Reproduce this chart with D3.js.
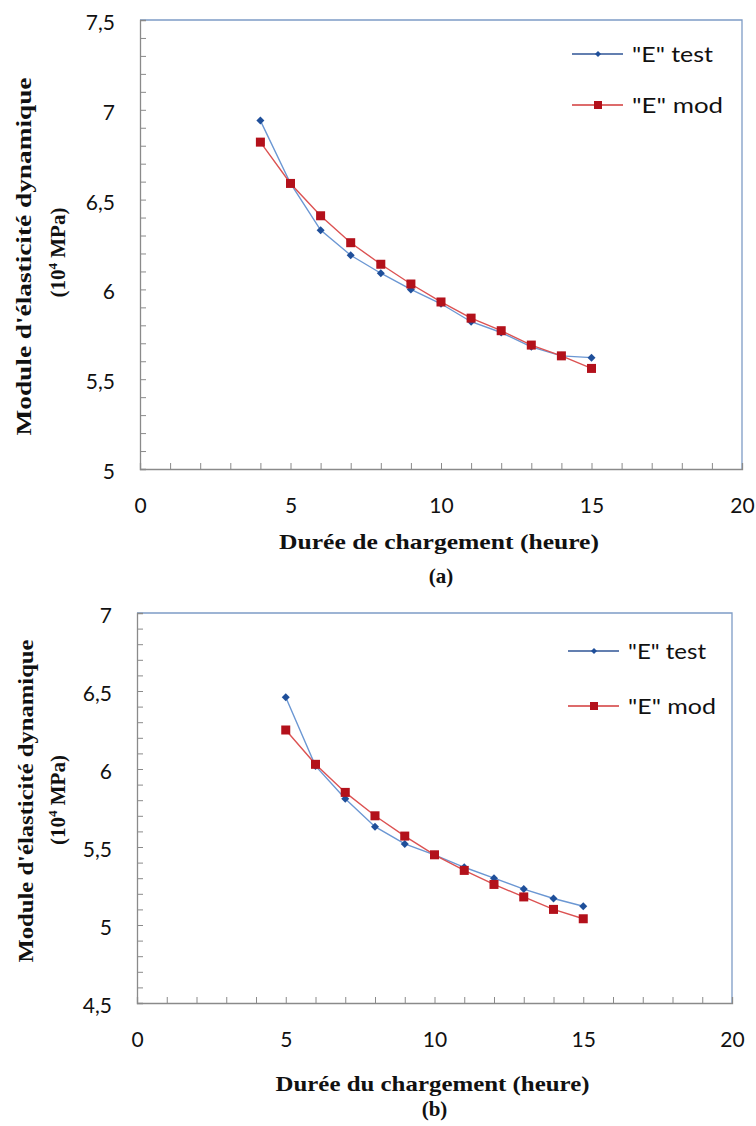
<!DOCTYPE html>
<html>
<head>
<meta charset="utf-8">
<script src="https://cdn.jsdelivr.net/npm/d3@7"></script>
<style>
  html, body { margin: 0; background: #fff; }
  svg { display: block; }
</style>
</head>
<body>
<svg id="fig" width="756" height="1126"></svg>
<script>
// Panel (a): dynamic modulus vs loading duration
const hoursA = [4, 5, 6, 7, 8, 9, 10, 11, 12, 13, 14, 15];
const testA  = [6.94, 6.59, 6.33, 6.19, 6.09, 6.00, 5.92, 5.82, 5.76, 5.68, 5.63, 5.62];
const modA   = [6.82, 6.59, 6.41, 6.26, 6.14, 6.03, 5.93, 5.84, 5.77, 5.69, 5.63, 5.56];

// Panel (b)
const hoursB = [5, 6, 7, 8, 9, 10, 11, 12, 13, 14, 15];
const testB  = [6.46, 6.02, 5.81, 5.63, 5.52, 5.45, 5.37, 5.30, 5.23, 5.17, 5.12];
const modB   = [6.25, 6.03, 5.85, 5.70, 5.57, 5.45, 5.35, 5.26, 5.18, 5.10, 5.04];

// Tick labels
const xTickLabels = [0, 5, 10, 15, 20];
const yTicksA = [5, 5.5, 6, 6.5, 7, 7.5];
const yTicksB = [4.5, 5, 5.5, 6, 6.5, 7];

const seriesNames = ['"E" test', '"E" mod'];
const xTitles = ["Durée de chargement (heure)", "Durée du chargement (heure)"];
const captions = ["(a)", "(b)"];
const yTitle = "Module d'élasticité dynamique";

const fr = d3.formatLocale({ decimal: ",", thousands: " ", grouping: [3], currency: ["", "€"] });
const fmt = fr.format(".1~f");

const svg = d3.select("#fig");
const SANS = "Lato, 'Open Sans', sans-serif";
const SERIF = "'Liberation Serif', 'DejaVu Serif', serif";

const testStyle = { line: "#6b97d3", marker: "#1f4f9a", shape: "diamond" };
const modStyle  = { line: "#dc5252", marker: "#b3111b", shape: "square" };

function drawMarker(sel, shape, size) {
  if (shape === "square") {
    sel.append("rect").attr("x", -size / 2).attr("y", -size / 2)
      .attr("width", size).attr("height", size);
  } else {
    const r = size / 2;
    sel.append("path").attr("d", `M0,${-r}L${r},0L0,${r}L${-r},0Z`);
  }
}

function stretch(sel, width) {
  sel.attr("textLength", width).attr("lengthAdjust", "spacingAndGlyphs");
}

function panel(cfg) {
  const x = d3.scaleLinear().domain([0, 20]).range([cfg.left, cfg.right]);
  const y = d3.scaleLinear().domain(cfg.yDomain).range([cfg.bottom, cfg.top]);
  const g = svg.append("g");

  // top and right frame
  g.append("path")
    .attr("d", `M${cfg.left},${cfg.top}H${cfg.right}V${cfg.bottom}`)
    .attr("fill", "none").attr("stroke", "#7e9cc6").attr("stroke-width", 1.3);

  const yMinor = d3.range(Math.round(cfg.yDomain[0] * 10), Math.round(cfg.yDomain[1] * 10) + 1).map(d => d / 10);
  const xMinor = d3.range(0, 21);

  // left axis with inward ticks
  const yAx = g.append("g").attr("transform", `translate(${cfg.left},0)`)
    .call(d3.axisLeft(y).tickValues(yMinor).tickSize(-6).tickFormat(""));
  yAx.select(".domain").attr("stroke", "#8a8a8a").attr("stroke-width", 1.3);
  yAx.selectAll(".tick line").attr("stroke", "#8a8a8a");

  const yLab = g.append("g").attr("transform", `translate(${cfg.left},0)`)
    .call(d3.axisLeft(y).tickValues(cfg.yTicks).tickSize(0).tickPadding(25).tickFormat(fmt));
  yLab.select(".domain").remove();
  yLab.selectAll("text").attr("font-family", SANS).attr("font-size", 21)
    .attr("fill", "#111").attr("dy", "0.45em");

  // bottom axis with inward ticks
  const xAx = g.append("g").attr("transform", `translate(0,${cfg.bottom})`)
    .call(d3.axisBottom(x).tickValues(xMinor).tickSize(-6).tickFormat(""));
  xAx.select(".domain").attr("stroke", "#8a8a8a").attr("stroke-width", 1.3);
  xAx.selectAll(".tick line").attr("stroke", "#8a8a8a");

  const xLab = g.append("g").attr("transform", `translate(0,${cfg.bottom})`)
    .call(d3.axisBottom(x).tickValues(xTickLabels).tickSize(0).tickPadding(29).tickFormat(d3.format("d")));
  xLab.select(".domain").remove();
  xLab.selectAll("text").attr("font-family", SANS).attr("font-size", 21).attr("fill", "#111");

  // series
  const line = d3.line().x(d => x(d[0])).y(d => y(d[1]));
  const series = [
    { vals: cfg.test, st: testStyle, size: 8 },
    { vals: cfg.mod, st: modStyle, size: 9 }
  ];
  series.forEach(s => {
    const pts = cfg.hours.map((h, i) => [h, s.vals[i]]);
    g.append("path").datum(pts).attr("d", line)
      .attr("fill", "none").attr("stroke", s.st.line).attr("stroke-width", 1.4);
  });
  series.forEach(s => {
    const pts = cfg.hours.map((h, i) => [h, s.vals[i]]);
    g.append("g").attr("fill", s.st.marker)
      .selectAll("g").data(pts).join("g")
      .attr("transform", d => `translate(${x(d[0])},${y(d[1])})`)
      .each(function () { drawMarker(d3.select(this), s.st.shape, s.size); });
  });

  // legend
  const leg = g.append("g").attr("transform", `translate(${cfg.right - cfg.legRight},${cfg.top})`);
  [testStyle, modStyle].forEach((st, i) => {
    const row = leg.append("g").attr("transform", `translate(0,${cfg.legRows[i]})`);
    row.append("line").attr("x1", 0).attr("x2", 51).attr("y1", 0).attr("y2", 0)
      .attr("stroke", i === 0 ? "#2f5596" : "#d23a3a").attr("stroke-width", 1.3);
    const m = row.append("g").attr("transform", "translate(26,0)").attr("fill", st.marker);
    drawMarker(m, st.shape, i === 0 ? 6 : 8);
    const t = row.append("text").attr("x", 60).attr("y", 8)
      .attr("font-family", SANS).attr("font-size", 21).attr("fill", "#111")
      .text(seriesNames[i]);
    stretch(t, cfg.legWidths[i]);
  });

  // x title and caption
  const cx = (cfg.left + cfg.right) / 2;
  const xt = g.append("text").attr("x", cx - 2).attr("y", cfg.bottom + cfg.xTitleDy)
    .attr("text-anchor", "middle").attr("font-family", SERIF).attr("font-weight", "bold")
    .attr("font-size", 22).attr("fill", "#111").text(xTitles[cfg.idx]);
  stretch(xt, cfg.xTitleW);
  g.append("text").attr("x", cx).attr("y", cfg.bottom + cfg.capDy)
    .attr("text-anchor", "middle").attr("font-family", SERIF).attr("font-weight", "bold")
    .attr("font-size", 21).attr("fill", "#111").text(captions[cfg.idx]);

  // y title (two lines)
  const cy = (cfg.top + cfg.bottom) / 2;
  const y1 = g.append("text")
    .attr("transform", `translate(${cfg.yt1x},${cy + cfg.yt1dy}) rotate(-90)`)
    .attr("text-anchor", "middle").attr("font-family", SERIF).attr("font-weight", "bold")
    .attr("font-size", 21).attr("fill", "#111").text(yTitle);
  stretch(y1, cfg.yt1W);
  const y2 = g.append("text")
    .attr("transform", `translate(${cfg.yt2x},${cy + cfg.yt2dy}) rotate(-90)`)
    .attr("text-anchor", "middle").attr("font-family", SERIF).attr("font-weight", "bold")
    .attr("font-size", 21).attr("fill", "#111");
  y2.append("tspan").text("(10");
  y2.append("tspan").attr("font-size", 13).attr("dy", -8).text("4");
  y2.append("tspan").attr("dy", 8).text(" MPa)");
}

panel({
  idx: 0, left: 140, right: 742, top: 20, bottom: 469,
  yDomain: [5, 7.5], yTicks: yTicksA,
  hours: hoursA, test: testA, mod: modA,
  legRight: 170, legRows: [34, 85], legWidths: [81, 91],
  xTitleDy: 80, xTitleW: 320, capDy: 114,
  yt1x: 31, yt1dy: 12, yt1W: 358, yt2x: 65, yt2dy: 8
});

panel({
  idx: 1, left: 137, right: 732, top: 613, bottom: 1003,
  yDomain: [4.5, 7], yTicks: yTicksB,
  hours: hoursB, test: testB, mod: modB,
  legRight: 164, legRows: [38, 93], legWidths: [78, 88],
  xTitleDy: 88, xTitleW: 314, capDy: 113,
  yt1x: 33, yt1dy: -7, yt1W: 323, yt2x: 65, yt2dy: -8
});
</script>
</body>
</html>
